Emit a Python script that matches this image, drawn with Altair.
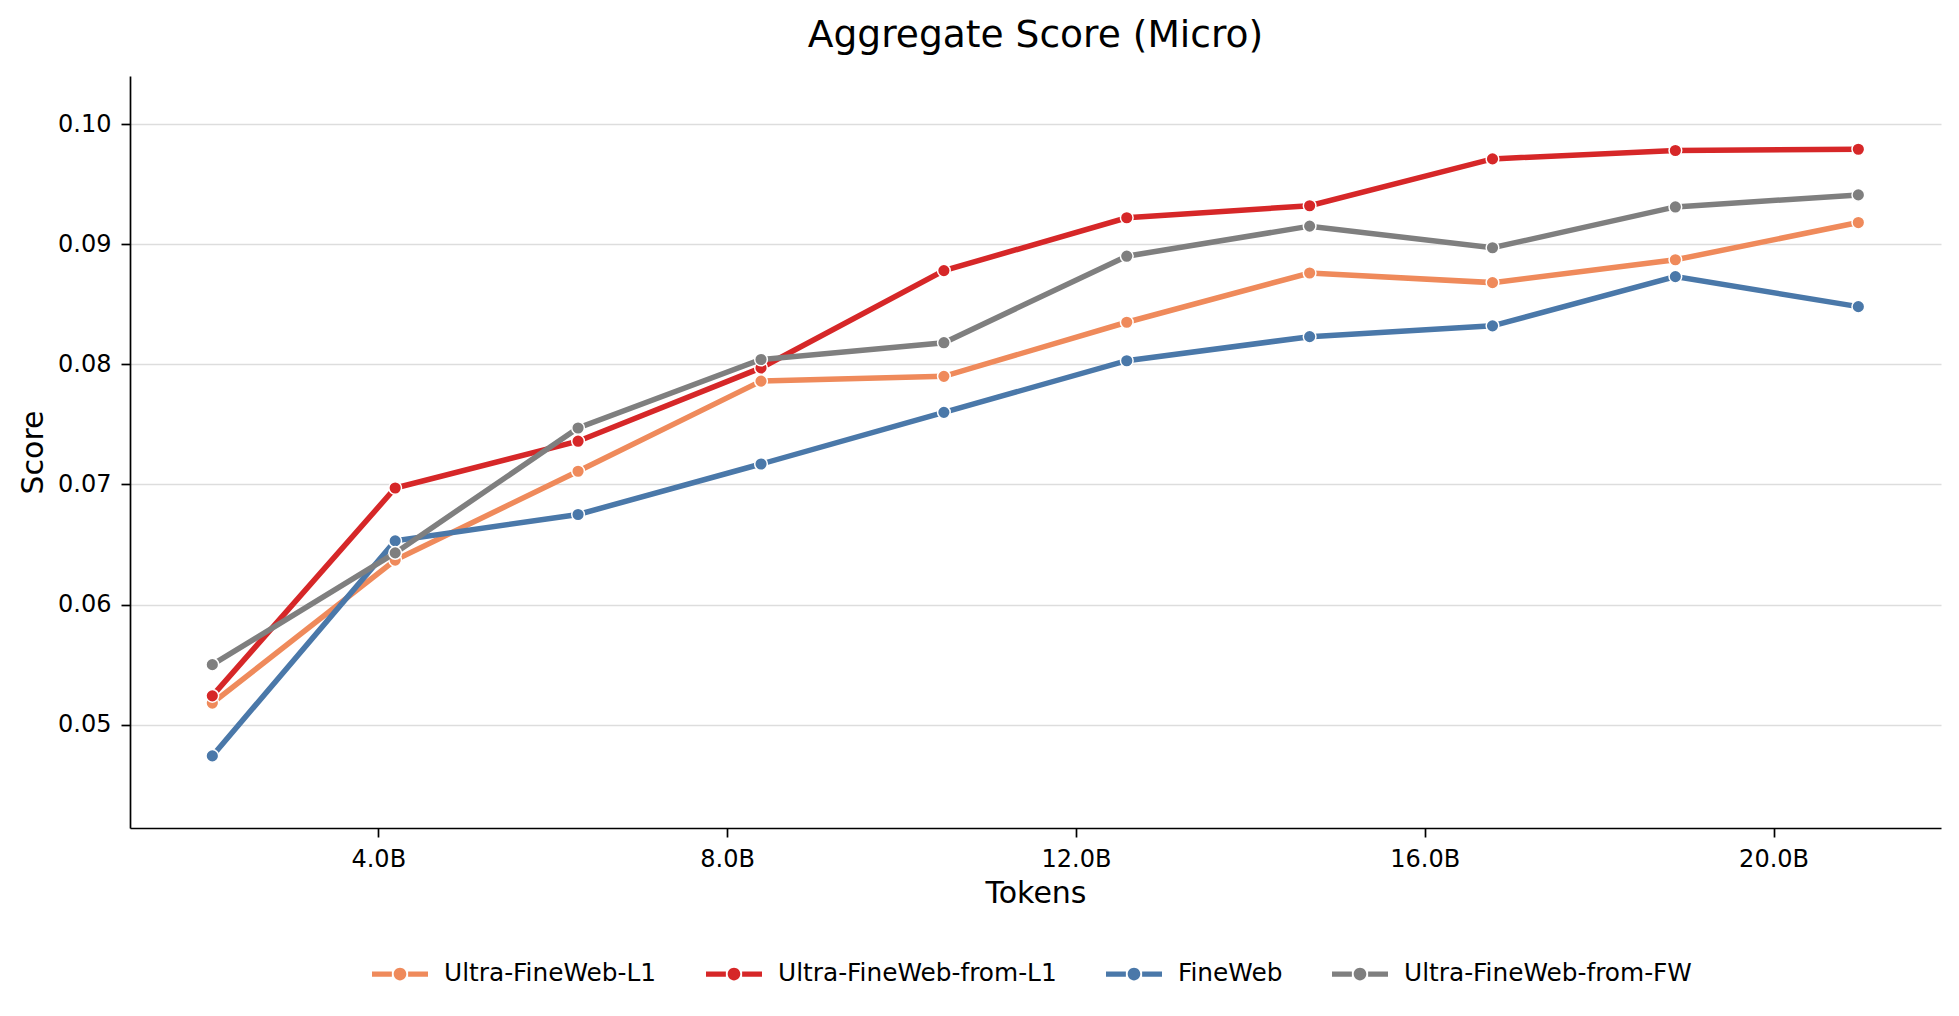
"""Aggregate Score (Micro) vs training tokens for four pre-training data runs."""

import altair as alt
import pandas as pd

# Tokens seen at each checkpoint, in billions.
TOKENS_B = [2.097, 4.194, 6.291, 8.389, 10.486, 12.583, 14.680, 16.777, 18.874, 20.972]

RUNS = ["Ultra-FineWeb-L1", "Ultra-FineWeb-from-L1", "FineWeb", "Ultra-FineWeb-from-FW"]
ULTRA_FINEWEB_L1 = [0.0518, 0.0637, 0.0711, 0.0786, 0.0790, 0.0835, 0.0876, 0.0868, 0.0887, 0.0918]
ULTRA_FINEWEB_FROM_L1 = [0.0524, 0.0697, 0.0736, 0.0797, 0.0878, 0.0922, 0.0932, 0.0971, 0.0978, 0.0979]
FINEWEB = [0.0474, 0.0653, 0.0675, 0.0717, 0.0760, 0.0803, 0.0823, 0.0832, 0.0873, 0.0848]
ULTRA_FINEWEB_FROM_FW = [0.0550, 0.0643, 0.0747, 0.0804, 0.0818, 0.0890, 0.0915, 0.0897, 0.0931, 0.0941]

X_TICKS = [4, 8, 12, 16, 20]
Y_TICKS = [0.05, 0.06, 0.07, 0.08, 0.09, 0.10]

COLORS = ["#ef8a5b", "#d62728", "#4a78a9", "#7f7f7f"]
FONT = "DejaVu Sans"

# Legend glyph: a thick line broken by a dot, in units of half the symbol width.
LINE_DOT = (
    "M-1,-0.095L-0.29,-0.095L-0.29,0.095L-1,0.095Z "
    "M0.29,-0.095L1,-0.095L1,0.095L0.29,0.095Z "
    "M0.225,0A0.225,0.225,0,1,1,-0.225,0A0.225,0.225,0,1,1,0.225,0Z"
)


def _frame() -> pd.DataFrame:
    series = [ULTRA_FINEWEB_L1, ULTRA_FINEWEB_FROM_L1, FINEWEB, ULTRA_FINEWEB_FROM_FW]
    rows = []
    for run, scores in zip(RUNS, series):
        for tokens, score in zip(TOKENS_B, scores):
            rows.append({"Run": run, "Tokens": tokens, "Score": score})
    return pd.DataFrame(rows)


def aggregate_score() -> alt.LayerChart:
    df = _frame()
    color_scale = alt.Scale(domain=RUNS, range=COLORS)
    legend = alt.Legend(
        title=None,
        orient="none",
        legendX=242,
        legendY=870,
        direction="horizontal",
        symbolType=LINE_DOT,
        symbolSize=3136,
        symbolStrokeWidth=0,
        symbolOpacity=1,
        labelFont=FONT,
        labelFontSize=24.8,
        labelColor="black",
        labelLimit=600,
        labelOffset=16,
        columnPadding=49,
    )
    base = alt.Chart(df).encode(
        x=alt.X(
            "Tokens:Q",
            scale=alt.Scale(domain=[1.153, 21.92], nice=False, zero=False),
            axis=alt.Axis(
                values=X_TICKS,
                labelExpr="format(datum.value, '.1f') + 'B'",
                grid=False,
                title="Tokens",
                titlePadding=7,
            ),
        ),
        y=alt.Y(
            "Score:Q",
            scale=alt.Scale(domain=[0.0414, 0.104], nice=False, zero=False),
            axis=alt.Axis(values=Y_TICKS, format=".2f", title="Score", titlePadding=9),
        ),
    )

    # One line + marker pair per run so later runs sit on top, as in the source.
    layers = []
    for run, colour in zip(RUNS, COLORS):
        sub = base.transform_filter(alt.datum.Run == run)
        layers.append(sub.mark_line(strokeWidth=5.5, color=colour))
        layers.append(
            sub.mark_circle(size=160, opacity=1, stroke="white", strokeWidth=1.5).encode(
                color=alt.Color("Run:N", scale=color_scale, legend=legend)
            )
        )

    chart = (
        alt.layer(*layers)
        .properties(
            width=1811,
            height=752,
            title=alt.TitleParams(
                "Aggregate Score (Micro)",
                fontSize=37.6,
                fontWeight="normal",
                font=FONT,
                color="black",
                anchor="middle",
                offset=21,
            ),
            autosize=alt.AutoSizeParams(type="none"),
            padding={"left": 122, "top": 68, "right": 10, "bottom": 170},
        )
        .configure(font=FONT, background="white")
        .configure_axis(
            labelFont=FONT,
            titleFont=FONT,
            labelFontSize=24,
            titleFontSize=30,
            titleFontWeight="normal",
            labelColor="black",
            titleColor="black",
            domainColor="black",
            domainWidth=1.7,
            tickColor="black",
            tickWidth=1.7,
            tickSize=9,
            labelPadding=10,
            gridColor="#dddddd",
            gridWidth=1.6,
        )
        .configure_view(stroke=None)
    )
    return chart


chart = aggregate_score()
chart.save("out.html", embed_options={"renderer": "svg", "actions": False})
